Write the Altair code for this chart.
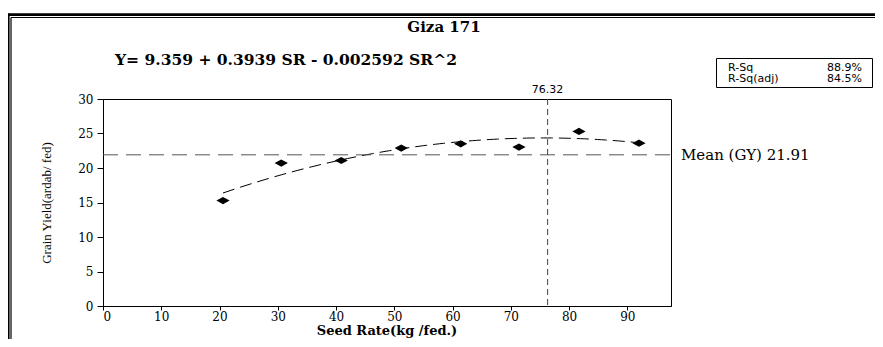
import altair as alt
import pandas as pd

# ---- data ----
seed_rate = [20.6, 30.6, 40.9, 51.2, 61.4, 71.4, 81.7, 92.0]
grain_yield = [15.28, 20.71, 21.09, 22.89, 23.50, 23.03, 25.30, 23.60]
x_ticks = [0, 10, 20, 30, 40, 50, 60, 70, 80, 90]
y_ticks = [0, 5, 10, 15, 20, 25, 30]
mean_gy = 21.91
optimum_sr = 76.32
title_text = "Giza 171"
equation_text = "Y=  9.359 + 0.3939 SR  - 0.002592 SR^2"
stats_labels = ["R-Sq", "R-Sq(adj)"]
stats_values = ["88.9%", "84.5%"]
x_title = "Seed Rate(kg /fed.)"
y_title = "Grain Yield(ardab/ fed)"
mean_label = "Mean (GY) 21.91"

df = pd.DataFrame({"SR": seed_rate, "GY": grain_yield})

W, H = 568, 207
SERIF = "DejaVu Serif"
SANS = "DejaVu Sans"

xs = alt.Scale(domain=[0, 97.5], nice=False, zero=False)
ys = alt.Scale(domain=[0, 30], nice=False, zero=False)

x_axis = alt.Axis(values=x_ticks, title=None, tickSize=4, labelPadding=1,
                  labelFont=SERIF, labelFontSize=12, labelColor="black",
                  domainColor="black", tickColor="black", grid=False, labelOverlap=False)
y_axis = alt.Axis(values=y_ticks, title=None, tickSize=6, labelPadding=4,
                  labelFont=SERIF, labelFontSize=12, labelColor="black",
                  domainColor="black", tickColor="black", grid=False, labelOverlap=False)

x_enc = alt.X("SR:Q", scale=xs, axis=x_axis)
y_enc = alt.Y("GY:Q", scale=ys, axis=y_axis)
mean_y = alt.YDatum(mean_gy, scale=ys, axis=y_axis)
opt_x = alt.XDatum(optimum_sr, scale=xs, axis=x_axis)

diamond = "M-1,0L0,-0.54L1,0L0,0.54Z"

points = alt.Chart(df).mark_point(shape=diamond, filled=True, size=175,
                                  color="black", opacity=1, strokeWidth=0).encode(x=x_enc, y=y_enc)

curve = alt.Chart(df).transform_regression(
    "SR", "GY", method="poly", order=2
).mark_line(color="black", strokeDash=[12, 6], strokeWidth=1).encode(x=x_enc, y=y_enc)


def one(v="x"):
    return pd.DataFrame({"t": [v]})


mean_rule = alt.Chart(one()).mark_rule(color="#555555", strokeDash=[15, 8], strokeWidth=1).encode(
    x=alt.value(0), x2=alt.value(W), y=mean_y)

opt_rule = alt.Chart(one()).mark_rule(color="#444444", strokeDash=[6, 4], strokeWidth=1).encode(
    x=opt_x, y=alt.value(0), y2=alt.value(H))

opt_label = alt.Chart(one(f"{optimum_sr:.2f}")).mark_text(
    font=SANS, fontSize=11, color="black", align="center", baseline="middle").encode(
    x=opt_x, y=alt.value(-9), text="t:N")

mean_text = alt.Chart(one(mean_label)).mark_text(
    font=SERIF, fontSize=15, color="black", align="left", baseline="middle").encode(
    x=alt.value(578), y=mean_y, text="t:N")

title = alt.Chart(one(title_text)).mark_text(
    font=SERIF, fontSize=15, fontWeight="bold", color="black", align="center", baseline="middle").encode(
    x=alt.value(341), y=alt.value(-72), text="t:N")

equation = alt.Chart(one(equation_text)).mark_text(
    font=SERIF, fontSize=15.5, fontWeight="bold", color="black", align="left", baseline="middle").encode(
    x=alt.value(12), y=alt.value(-39), text="t:N")

xtitle = alt.Chart(one(x_title)).mark_text(
    font=SERIF, fontSize=13, fontWeight="bold", color="black", align="center", baseline="middle").encode(
    x=alt.value(284), y=alt.value(232), text="t:N")

ytitle = alt.Chart(one(y_title)).mark_text(
    font="Liberation Serif", fontSize=13, color="black", align="center", baseline="middle", angle=270).encode(
    x=alt.value(-56), y=alt.value(104), text="t:N")

box = alt.Chart(one()).mark_rect(fill="white", stroke="black", strokeWidth=1).encode(
    x=alt.value(613.5), x2=alt.value(769.5), y=alt.value(-40.5), y2=alt.value(-11.5))

stat_layers = []
for i, (lab, val) in enumerate(zip(stats_labels, stats_values)):
    py = -31.5 + i * 11.5
    stat_layers.append(alt.Chart(one(lab)).mark_text(
        font=SANS, fontSize=11, color="black", align="left", baseline="middle").encode(
        x=alt.value(625), y=alt.value(py), text="t:N"))
    stat_layers.append(alt.Chart(one(val)).mark_text(
        font=SANS, fontSize=11, color="black", align="right", baseline="middle").encode(
        x=alt.value(759), y=alt.value(py), text="t:N"))

# double-line outer frame
frame = [
    alt.Chart(one()).mark_rule(color="black", strokeWidth=2.7).encode(
        x=alt.value(-96), x2=alt.value(790), y=alt.value(-84.3)),
    alt.Chart(one()).mark_rule(color="black", strokeWidth=2.6).encode(
        x=alt.value(-94.7), y=alt.value(-85.6), y2=alt.value(260)),
    alt.Chart(one()).mark_rule(color="black", strokeWidth=1.2).encode(
        x=alt.value(-92), x2=alt.value(790), y=alt.value(-81.5)),
    alt.Chart(one()).mark_rule(color="black", strokeWidth=1.2).encode(
        x=alt.value(-92), y=alt.value(-81.5), y2=alt.value(260)),
]

chart = alt.layer(
    points, curve, mean_rule, opt_rule, opt_label, mean_text, title, equation,
    xtitle, ytitle, box, *stat_layers, *frame
).properties(
    width=W, height=H,
    padding={"left": 95, "top": 91, "right": 204, "bottom": 33},
    autosize=alt.AutoSizeParams(type="none"),
    background="white",
).configure_view(stroke="black", strokeWidth=1)

chart.save("out.html", embed_options={"renderer": "svg", "actions": False})
